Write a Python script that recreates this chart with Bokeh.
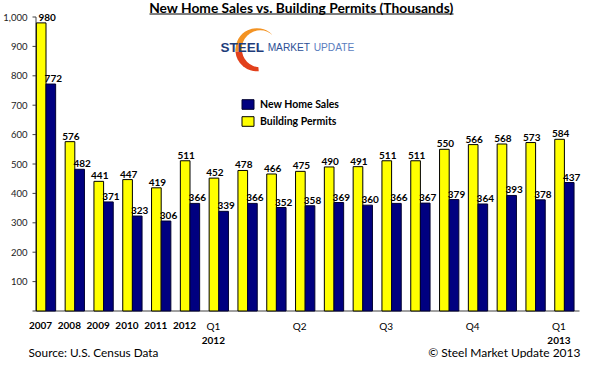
from bokeh.plotting import figure
from bokeh.models import (Range1d, FixedTicker, NumeralTickFormatter, ColumnDataSource,
                          LabelSet, Legend, LegendItem)
from bokeh.core.properties import value
from bokeh.embed import file_html
from bokeh.resources import INLINE

# ---------------- data ----------------
periods = ["2007", "2008", "2009", "2010", "2011", "2012",
           "Jan 2012", "Feb 2012", "Mar 2012", "Apr 2012", "May 2012", "Jun 2012",
           "Jul 2012", "Aug 2012", "Sep 2012", "Oct 2012", "Nov 2012", "Dec 2012", "Jan 2013"]
building_permits = [980, 576, 441, 447, 419, 511, 452, 478, 466, 475, 490, 491, 511, 511, 550, 566, 568, 573, 584]
new_home_sales = [772, 482, 371, 323, 306, 366, 339, 366, 352, 358, 369, 360, 366, 367, 379, 364, 393, 378, 437]

tick_index = [0, 1, 2, 3, 4, 5, 6, 9, 12, 15, 18]
tick_top = ["2007", "2008", "2009", "2010", "2011", "2012", "Q1", "Q2", "Q3", "Q4", "Q1"]
tick_top_bold = [True, True, True, True, True, True, False, False, False, False, False]
tick2_index = [6, 18]
tick2_text = ["2012", "2013"]

y_ticks = [0, 100, 200, 300, 400, 500, 600, 700, 800, 900, 1000]

TITLE = "New Home Sales vs. Building Permits (Thousands)"
SOURCE = "Source: U.S. Census Data"
COPY = "\u00a9 Steel Market Update 2013"

YELLOW = "#FFFF00"
NAVY = "#000080"
AXIS = "#404040"
FONT = "Lato"

# ---------------- layout geometry (canvas px) ----------------
W, H = 580, 358
LEFT = 27             # width of the y-axis label panel
PITCH = 28.8          # px per group
G0 = 44.5             # canvas x of first group centre
AX_X = 34.5           # canvas x of the drawn y-axis line
BASE_Y = 310.5        # canvas y of value 0
TOP_Y = 16.5          # canvas y of value 1000
PPV = (BASE_Y - TOP_Y) / 1000.0   # px per unit value


def cx(px):  # canvas x -> data x
    return (px - G0) / PITCH


def cy(py):  # canvas y -> data y
    return (BASE_Y - py) / PPV


def rx(v):   # reference-image x -> data x
    return (v - 45.75) / 29.4


def ry(v):   # reference-image y -> data y
    return (317 - v) / 0.3005


n = len(periods)
xs = list(range(n))
off = 0.1675
bw = 0.335

p = figure(frame_width=W - LEFT, frame_height=H, output_backend="svg",
           toolbar_location=None, x_axis_location=None,
           x_range=Range1d(cx(LEFT), cx(W)), y_range=Range1d(cy(H), cy(0)),
           min_border_left=LEFT, min_border_right=0, min_border_top=0,
           min_border_bottom=0, background_fill_color="white",
           border_fill_color="white")
p.outline_line_color = None
p.grid.visible = False

# y axis: real axis for the labels, line/ticks drawn as glyphs at the Excel position
p.yaxis.ticker = FixedTicker(ticks=y_ticks)
p.yaxis.formatter = NumeralTickFormatter(format="0,0")
p.yaxis.major_label_overrides = {0: ""}
p.yaxis.minor_tick_line_color = None
p.yaxis.major_tick_line_color = None
p.yaxis.major_tick_in = 0
p.yaxis.major_tick_out = 0
p.yaxis.major_label_standoff = 1
p.yaxis.axis_line_color = None
p.yaxis.major_label_text_font = FONT
p.yaxis.major_label_text_font_size = "9.5px"
p.yaxis.major_label_text_color = "#222222"

p.segment(x0=[cx(AX_X)], y0=[0], x1=[cx(AX_X)], y1=[max(y_ticks)], line_color=AXIS,
          line_width=1)
p.segment(x0=[cx(AX_X - 3.5)] * len(y_ticks), y0=y_ticks,
          x1=[cx(AX_X)] * len(y_ticks), y1=y_ticks, line_color=AXIS, line_width=1)
p.segment(x0=[cx(AX_X)], y0=[0], x1=[cx(578)], y1=[0], line_color=AXIS, line_width=1)

# bars
src = ColumnDataSource(dict(
    xp=[x - off for x in xs], xs_=[x + off for x in xs],
    permits=building_permits, sales=new_home_sales,
    permits_t=[str(v) for v in building_permits], sales_t=[str(v) for v in new_home_sales],
    permits_dx=[6 if i == 0 else 1 for i in xs]))

r_perm = p.vbar(x="xp", top="permits", width=bw, source=src, fill_color=YELLOW,
                line_color="black", line_width=1)
r_sales = p.vbar(x="xs_", top="sales", width=bw, source=src, fill_color=NAVY,
                 line_color="#000030", line_width=1)

lab_kw = dict(source=src, text_align="center", text_baseline="bottom", y_offset=2,
              text_font=value(FONT), text_font_style="bold", text_font_size="10px",
              text_color="black")
p.add_layout(LabelSet(x="xp", y="permits", text="permits_t", x_offset="permits_dx", **lab_kw))
p.add_layout(LabelSet(x="xs_", y="sales", text="sales_t", x_offset=2.5, **lab_kw))

# category labels under the baseline
LAB_SHIFT = -0.19
for bold in (True, False):
    sel = [i for i, b in enumerate(tick_top_bold) if b == bold]
    p.text(x=[tick_index[i] + LAB_SHIFT for i in sel], y=[cy(325)] * len(sel),
           text=[tick_top[i] for i in sel], text_align="center", text_baseline="middle",
           text_font=value(FONT), text_font_style="bold" if bold else "normal",
           text_font_size="10px", text_color="black")
p.text(x=[i + LAB_SHIFT for i in tick2_index], y=[cy(339.5)] * len(tick2_index),
       text=tick2_text, text_align="center", text_baseline="middle",
       text_font=value(FONT), text_font_style="bold", text_font_size="10px",
       text_color="black")

# title with underline
p.text(x=[cx(300)], y=[cy(7)], text=[TITLE], text_align="center",
       text_baseline="middle", text_font=value(FONT), text_font_style="bold",
       text_font_size="13.8px", text_color="black")
p.segment(x0=[cx(148)], y0=[cy(13.5)], x1=[cx(452)], y1=[cy(13.5)], line_color="black",
          line_width=1)

# footer
p.text(x=[cx(27)], y=[cy(351.5)], text=[SOURCE], text_align="left", text_baseline="middle",
       text_font=value(FONT), text_font_size="11.8px", text_color="black")
p.text(x=[cx(579)], y=[cy(351.5)], text=[COPY], text_align="right", text_baseline="middle",
       text_font=value(FONT), text_font_size="12px", text_color="black")

# logo
p.wedge(x=[rx(261)], y=[ry(50)], radius=21.5, radius_units="screen", start_angle=45,
        end_angle=185, start_angle_units="deg", end_angle_units="deg",
        fill_color="#F39323", line_color=None)
p.wedge(x=[rx(261)], y=[ry(50)], radius=21.5, radius_units="screen", start_angle=185,
        end_angle=275, start_angle_units="deg", end_angle_units="deg",
        fill_color="#E2401B", line_color=None)
p.scatter(x=[rx(264.5)], y=[ry(49)], size=37, marker="circle", fill_color="white",
          line_color=None)
logo_font = "Liberation Sans"
p.text(x=[rx(224)], y=[ry(47.8)], text=["STEEL"], text_font=value(logo_font),
       text_font_style="bold", text_font_size="13.5px", text_color="#1F3C7A",
       text_baseline="middle")
p.text(x=[rx(272)], y=[ry(47.8)], text=["MARKET"], text_font=value(logo_font),
       text_font_size="10.2px", text_color="#2E4F96", text_baseline="middle")
p.text(x=[rx(319)], y=[ry(47.8)], text=["UPDATE"], text_font=value(logo_font),
       text_font_size="10.2px", text_color="#5A7DBE", text_baseline="middle")

# legend
legend = Legend(items=[LegendItem(label="New Home Sales", renderers=[r_sales]),
                       LegendItem(label="Building Permits", renderers=[r_perm])],
                location=(212, 231), orientation="vertical", padding=0, margin=0,
                spacing=5, glyph_width=15, glyph_height=12, label_height=12,
                label_standoff=5, border_line_color=None, background_fill_alpha=0,
                label_text_font=FONT, label_text_font_style="bold",
                label_text_font_size="10.5px", label_text_color="black")
p.add_layout(legend)

open("out.html", "w").write(file_html(p, INLINE))
